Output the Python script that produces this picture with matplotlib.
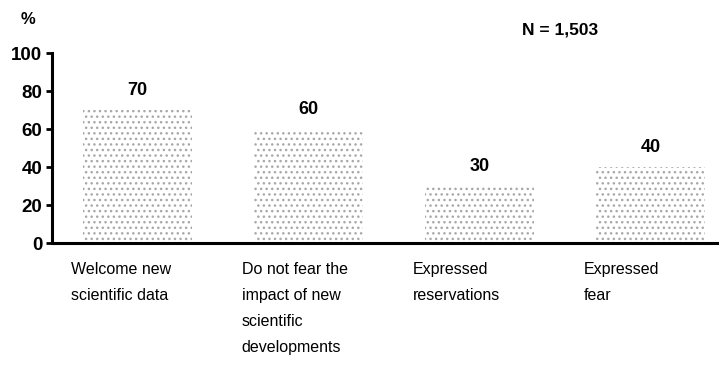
import matplotlib
matplotlib.use('Agg')
from matplotlib import pyplot as plt

categories = ['Welcome new\nscientific data',
              'Do not fear the\nimpact of new\nscientific\ndevelopments',
              'Expressed\nreservations',
              'Expressed\nfear']
values = [70, 60, 30, 40]
y_ticks = [0, 20, 40, 60, 80, 100]

plt.rcParams['font.family'] = ['Liberation Sans', 'DejaVu Sans']
plt.rcParams['hatch.linewidth'] = 1.0

fig = plt.figure(figsize=(7.19, 3.65), dpi=100)
ax = fig.add_axes([52/719, 1-243/365, 1-52/719, (243-53)/365])

x = list(range(len(values)))
ax.bar(x, values, width=0.64, color='white', edgecolor='#a8a8a8', hatch='...', linewidth=0)

for xi, v in zip(x, values):
    ax.text(xi, v + 6, str(v), ha='center', va='bottom', fontsize=13, fontweight='bold')

for xi, lab in zip(x, categories):
    ax.text(xi - 0.39, -10, lab, ha='left', va='top', fontsize=11.5, linespacing=1.92)

ax.set_xlim(-0.5, 3.4)
ax.set_ylim(0, 100)
ax.set_yticks(y_ticks)
ax.set_yticklabels([str(t) for t in y_ticks], fontsize=13.5, fontweight='bold')
ax.set_xticks([])
ax.spines['top'].set_visible(False)
ax.spines['right'].set_visible(False)
ax.spines['left'].set_linewidth(2.2)
ax.spines['bottom'].set_linewidth(2.2)
ax.tick_params(axis='y', length=4, width=2, pad=3)

fig.text(21/719, 1-20/365, '%', fontsize=12, fontweight='bold', va='center')
fig.text(522/719, 1-30/365, 'N = 1,503', fontsize=12.5, fontweight='bold', va='center')

plt.savefig('out.png', dpi=100)
